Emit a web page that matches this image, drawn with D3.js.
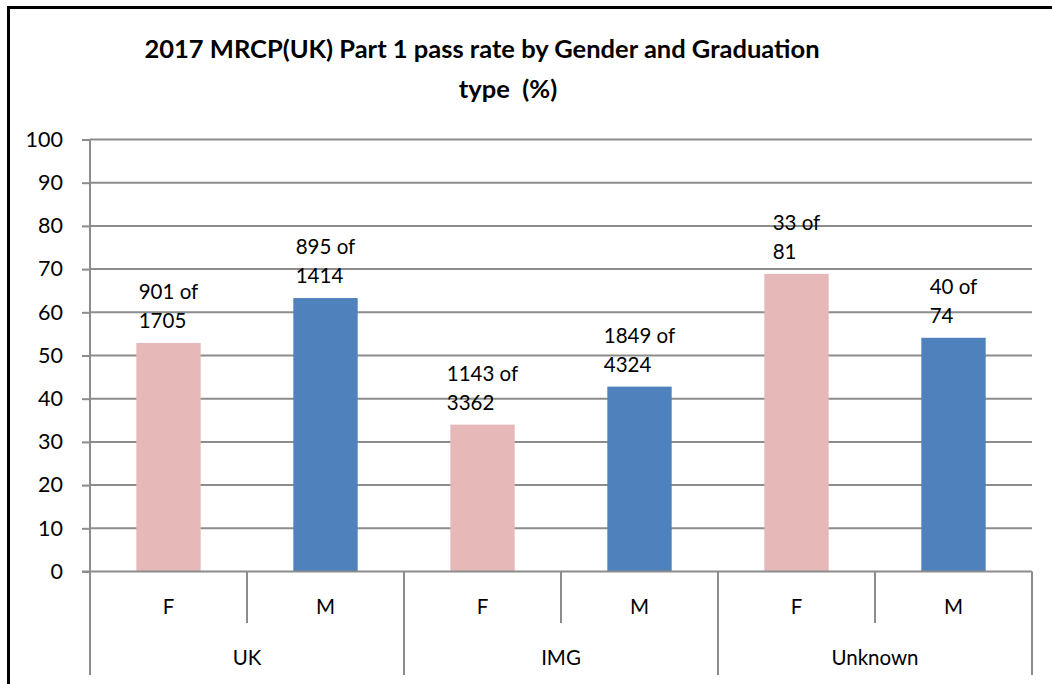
<!DOCTYPE html>
<html>
<head>
<meta charset="utf-8">
<script src="https://cdn.jsdelivr.net/npm/d3@7"></script>
<style>
  body { margin: 0; background: #fff; }
  svg text { font-family: Lato, "Open Sans", sans-serif; fill: #000; }
</style>
</head>
<body>
<div id="chart"></div>
<script>
// Data
const groups = ["UK", "IMG", "Unknown"];
const sexes = ["F", "M"];
const passRate = {
  UK: [52.9, 63.3],
  IMG: [34.0, 42.8],
  Unknown: [68.9, 54.1]
};
const passLabels = {
  UK: [["901 of", "1705"], ["895 of", "1414"]],
  IMG: [["1143 of", "3362"], ["1849 of", "4324"]],
  Unknown: [["33 of", "81"], ["40 of", "74"]]
};
const yTicks = [0, 10, 20, 30, 40, 50, 60, 70, 80, 90, 100];
const titleLines = ["2017 MRCP(UK) Part 1 pass rate by Gender and Graduation", "type  (%)"];
const sexColors = { F: "#e6b9b8", M: "#4f81bd" };

// Chart dimensions
const width = 1052;
const height = 684;
const marginLeft = 90;
const marginRight = 20;
const plotTop = 139.5;
const plotBottom = 571.5;

const svg = d3.select("#chart").append("svg")
  .attr("width", width)
  .attr("height", height);

svg.append("rect")
  .attr("width", width).attr("height", height)
  .attr("fill", "#fff");

// outer chart frame (runs off the right and bottom edges)
svg.append("rect")
  .attr("x", 8.5).attr("y", 7.5)
  .attr("width", 1200).attr("height", 900)
  .attr("fill", "none")
  .attr("stroke", "#000")
  .attr("stroke-width", 3);

// Title
svg.append("text")
  .attr("x", 482).attr("y", 58)
  .attr("text-anchor", "middle")
  .style("font-size", "25.5px")
  .style("font-weight", "bold")
  .text(titleLines[0]);
svg.append("text")
  .attr("x", 508).attr("y", 98)
  .attr("text-anchor", "middle")
  .style("font-size", "25.5px")
  .style("font-weight", "bold")
  .style("white-space", "pre")
  .text(titleLines[1]);

// Scales
const x0 = d3.scaleBand()
  .domain(groups)
  .range([marginLeft, width - marginRight]);

const x1 = d3.scaleBand()
  .domain(sexes)
  .range([0, x0.bandwidth()]);

const y = d3.scaleLinear()
  .domain([0, 100])
  .range([plotBottom, plotTop]);

const gridColor = "#8c8c8c";

// Gridlines + y ticks
const gy = svg.append("g")
  .attr("transform", `translate(${marginLeft},0)`)
  .call(d3.axisLeft(y).tickValues(yTicks).tickSize(8).tickPadding(19)
    .tickFormat(d3.format("d")));
gy.select(".domain").remove();
gy.selectAll(".tick line").attr("stroke", gridColor).attr("stroke-width", 2);
gy.selectAll(".tick text").style("font-size", "21.5px");

svg.append("g")
  .selectAll("line")
  .data(yTicks.filter(d => d > 0))
  .join("line")
  .attr("x1", marginLeft).attr("x2", width - marginRight)
  .attr("y1", d => y(d)).attr("y2", d => y(d))
  .attr("stroke", gridColor).attr("stroke-width", 2);

// Bars
const barW = x1.bandwidth() * 0.41;
const rows = groups.flatMap(g => sexes.map((s, i) => ({
  group: g, sex: s, value: passRate[g][i], label: passLabels[g][i]
})));

svg.append("g")
  .selectAll("rect")
  .data(rows)
  .join("rect")
  .attr("x", d => x0(d.group) + x1(d.sex) + (x1.bandwidth() - barW) / 2)
  .attr("y", d => y(d.value))
  .attr("width", barW)
  .attr("height", d => y(0) - y(d.value))
  .attr("fill", d => sexColors[d.sex]);

// Data labels (two lines, block centred over bar, lines left aligned)
const labelG = svg.append("g");
rows.forEach(d => {
  const cx = x0(d.group) + x1(d.sex) + x1.bandwidth() / 2;
  const t = labelG.append("text")
    .style("font-size", "20.5px")
    .attr("y", y(d.value) - 44);
  d.label.forEach((line, i) => {
    t.append("tspan")
      .attr("dy", i === 0 ? 0 : 29)
      .text(line);
  });
  const w = d3.max(t.selectAll("tspan").nodes(), n => n.getComputedTextLength());
  t.selectAll("tspan").attr("x", cx - w / 2);
});

// X axis (two-level categories)
const axisG = svg.append("g");
axisG.append("line")
  .attr("x1", marginLeft - 8).attr("x2", width - marginRight)
  .attr("y1", y(0)).attr("y2", y(0))
  .attr("stroke", gridColor).attr("stroke-width", 2);

// y-axis line
axisG.append("line")
  .attr("x1", marginLeft).attr("x2", marginLeft)
  .attr("y1", plotTop).attr("y2", y(0))
  .attr("stroke", gridColor).attr("stroke-width", 2);

// group separators
const groupEdges = groups.map(g => x0(g)).concat([x0(groups[groups.length - 1]) + x0.bandwidth()]);
axisG.selectAll(".gsep")
  .data(groupEdges)
  .join("line")
  .attr("x1", d => d).attr("x2", d => d)
  .attr("y1", y(0)).attr("y2", 675)
  .attr("stroke", gridColor).attr("stroke-width", 2);

// sex separators inside each group
axisG.selectAll(".ssep")
  .data(groups)
  .join("line")
  .attr("x1", g => x0(g) + x1("M")).attr("x2", g => x0(g) + x1("M"))
  .attr("y1", y(0)).attr("y2", 623)
  .attr("stroke", gridColor).attr("stroke-width", 2);

axisG.selectAll(".slabel")
  .data(rows)
  .join("text")
  .attr("x", d => x0(d.group) + x1(d.sex) + x1.bandwidth() / 2)
  .attr("y", 614)
  .attr("text-anchor", "middle")
  .style("font-size", "20.5px")
  .text(d => d.sex);

axisG.selectAll(".glabel")
  .data(groups)
  .join("text")
  .attr("x", g => x0(g) + x0.bandwidth() / 2)
  .attr("y", 665)
  .attr("text-anchor", "middle")
  .style("font-size", "20.5px")
  .text(g => g);
</script>
</body>
</html>
